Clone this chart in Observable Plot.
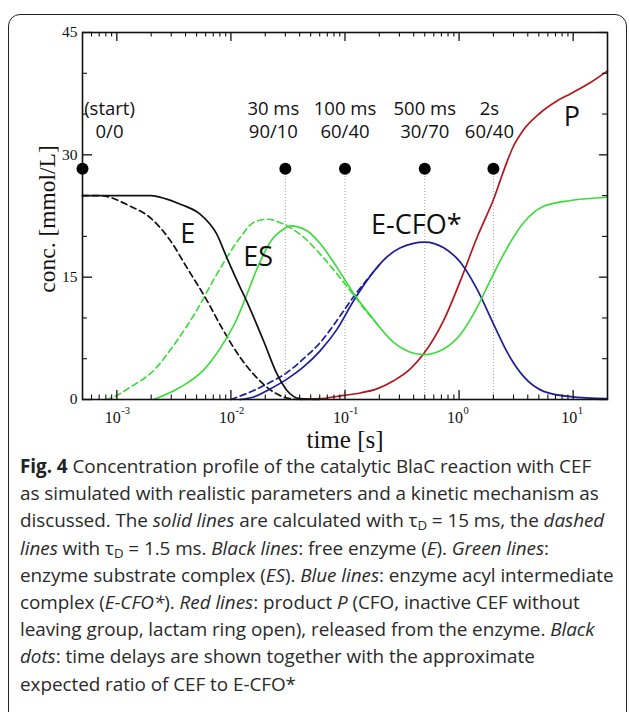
<!DOCTYPE html>
<html><head><meta charset="utf-8">
<script src="https://cdn.jsdelivr.net/npm/d3@7"></script>
<script src="https://cdn.jsdelivr.net/npm/@observablehq/plot@0.6"></script>
<style>
html,body{margin:0;padding:0;background:#fff;}
body{width:629px;height:712px;position:relative;overflow:hidden;}
#box{position:absolute;left:8px;top:14px;width:619px;height:760px;border:1.6px solid #222;border-radius:12px;box-sizing:border-box;}
#chart{position:absolute;left:0;top:0;}
#cap{position:absolute;left:20px;top:453px;font-family:"Open Sans",sans-serif;font-size:18.9px;line-height:27.2px;color:#2a2a2a;white-space:nowrap;letter-spacing:-0.05px;}
#cap b{font-weight:700;color:#222;}
#cap i{font-style:italic;}
#cap sub{font-size:70%;vertical-align:-3px;line-height:0;}
</style></head><body>
<div id="box"></div>
<div id="chart"></div>
<div id="cap">
<b>Fig. 4</b> Concentration profile of the catalytic BlaC reaction with CEF<br>
as simulated with realistic parameters and a kinetic mechanism as<br>
discussed. The <i>solid lines</i> are calculated with τ<sub>D</sub> = 15 ms, the <i>dashed</i><br>
<i>lines</i> with τ<sub>D</sub> = 1.5 ms. <i>Black lines</i>: free enzyme (<i>E</i>). <i>Green lines</i>:<br>
enzyme substrate complex (<i>ES</i>). <i>Blue lines</i>: enzyme acyl intermediate<br>
complex (<i>E-CFO*</i>). <i>Red lines</i>: product <i>P</i> (CFO, inactive CEF without<br>
leaving group, lactam ring open), released from the enzyme. <i>Black</i><br>
<i>dots</i>: time delays are shown together with the approximate<br>
expected ratio of CEF to E-CFO*
</div>
<script>
// ---- data (time in s, concentration in mmol/L) ----
const eSolidT = [5e-4, 1.2e-3, 2.0e-3, 2.7e-3, 3.6e-3, 5.4e-3, 7.5e-3, 9.2e-3, 1.21e-2, 1.33e-2, 1.93e-2, 2.54e-2, 3.1e-2, 4.05e-2, 0.06];
const eSolidV = [25, 25, 25, 24.6, 23.95, 22.7, 20.3, 17.4, 13.7, 12.5, 7.2, 3.1, 1.1, 0.1, 0];
const eDashT = [5e-4, 7.1e-4, 1.31e-3, 1.96e-3, 2.94e-3, 4.1e-3, 5.96e-3, 8.6e-3, 1.2e-2, 1.58e-2, 2.07e-2, 2.9e-2, 3.8e-2];
const eDashV = [25, 25, 23.7, 22.3, 19.5, 16.2, 12.5, 8.45, 5.2, 3.1, 1.5, 0.3, 0];
const esSolidT = [2.1e-3, 3.6e-3, 5.75e-3, 8.07e-3, 1.13e-2, 1.33e-2, 1.69e-2, 2.21e-2, 2.9e-2, 3.31e-2, 4.64e-2, 6.08e-2, 8.5e-2, 0.119, 0.167, 0.267, 0.374, 0.489, 0.733, 1.03, 1.44, 1.88, 2.64, 3.69, 5.52, 9.5, 20];
const esSolidV = [0, 1.5, 3.6, 6.3, 9.9, 12.3, 16.0, 19.3, 20.9, 21.3, 20.7, 19.1, 16.2, 13.0, 10.3, 7.0, 5.8, 5.5, 6.2, 8.0, 11.3, 14.6, 18.6, 21.7, 23.7, 24.4, 24.8];
const esDashT = [8e-4, 9.3e-4, 1.31e-3, 2.1e-3, 3.36e-3, 5.0e-3, 7.0e-3, 9.2e-3, 1.21e-2, 1.58e-2, 2.07e-2, 2.9e-2, 4.33e-2, 6.08e-2, 8.5e-2, 0.119, 0.156, 0.19];
const esDashV = [0, 0.3, 1.5, 3.55, 7.2, 10.9, 14.6, 17.4, 19.9, 21.7, 22.1, 21.5, 19.9, 17.8, 15.4, 12.8, 10.7, 9.3];
const acSolidT = [1.2e-2, 1.58e-2, 2.21e-2, 3.1e-2, 4.33e-2, 6.08e-2, 8.5e-2, 0.119, 0.156, 0.218, 0.306, 0.5, 0.733, 1.03, 1.44, 2.01, 2.64, 3.69, 5.52, 9.5, 20];
const acSolidV = [0, 0.3, 1.3, 2.5, 4.0, 6.0, 8.6, 12.1, 14.6, 17.1, 18.6, 19.3, 18.6, 16.8, 13.5, 9.2, 5.8, 2.8, 1.0, 0.35, 0.1];
const acDashT = [1.0e-2, 1.58e-2, 2.21e-2, 3.1e-2, 4.33e-2, 6.08e-2, 8.5e-2, 0.119, 0.156, 0.2];
const acDashV = [0, 1.1, 2.1, 3.3, 5.0, 7.0, 9.7, 12.6, 14.7, 16.5];
const pT = [0.04, 0.06, 0.097, 0.136, 0.19, 0.267, 0.374, 0.489, 0.733, 1.03, 1.44, 1.75, 2.0, 2.3, 2.64, 2.96, 3.69, 5.1, 7.2, 9.5, 14.3, 20];
const pV = [0, 0.1, 0.5, 0.8, 1.3, 2.3, 3.75, 5.6, 9.7, 14.6, 19.9, 22.6, 24.5, 26.9, 29.2, 30.9, 33.1, 35.1, 36.6, 37.5, 38.9, 40.3];

const dotTimes = [5e-4, 0.03, 0.1, 0.5, 2];
const dotLevel = 28.3;
const dotNames = ["(start)", "30 ms", "100 ms", "500 ms", "2s"];
const dotRatios = ["0/0", "90/10", "60/40", "30/70", "60/40"];

const curveNames = ["E", "ES", "E-CFO*", "P"];
const curveLabelT = [4.18e-3, 1.73e-2, 0.422, 9.75];
const curveLabelV = [20.2, 17.4, 21.4, 34.6];

const xMajor = [1e-3, 1e-2, 1e-1, 1, 10];
const xExp = ["-3", "-2", "-1", "0", "1"];
const yMajor = [0, 15, 30, 45];
const yMinor = [5, 10, 20, 25, 35, 40];

// ---- build ----
const zip = (t, v) => t.map((d, i) => ({t: d, v: v[i]}));
const xMinor = [];
for (let e = -4; e <= 1; e++) for (let k = 2; k <= 9; k++) {
  const val = k * Math.pow(10, e);
  if (val > 5e-4 && val < 20) xMinor.push(val);
}
const W = 629, H = 455, mL = 82, mR = 22, mT = 32, mB = 56;
const pw = W - mL - mR, ph = H - mT - mB;
const serif = "'Liberation Serif','Times New Roman',serif";
const sans = "'Open Sans',sans-serif";
const GREEN = "#3ddc3d", BLUE = "#1c1c9c", RED = "#b3161b", BLACK = "#111";
const lw = 1.7;
const dash = "6,4";

const labelOpts = (dx, keep) => ({
  x: d => d, y: () => dotLevel, text: (d, i) => dotNames[i] + "\n" + dotRatios[i],
  dx, dy: -49.5, textAnchor: "middle", lineAnchor: "middle", lineHeight: 1.25, fontSize: 18.5,
  fontFamily: sans, fill: "#111", filter: keep
});

const marks = [
  Plot.ruleX(dotTimes.slice(1), {x: d => d, y1: 0, y2: dotLevel, stroke: "#9a9a9a", strokeWidth: 0.9, strokeDasharray: "1,2"}),
  Plot.line(zip(esDashT, esDashV), {x: "t", y: "v", stroke: GREEN, strokeWidth: lw, strokeDasharray: dash, curve: "monotone-x"}),
  Plot.line(zip(acDashT, acDashV), {x: "t", y: "v", stroke: BLUE, strokeWidth: lw, strokeDasharray: dash, curve: "monotone-x"}),
  Plot.line(zip(eDashT, eDashV), {x: "t", y: "v", stroke: BLACK, strokeWidth: lw, strokeDasharray: dash, curve: "monotone-x"}),
  Plot.line(zip(pT, pV), {x: "t", y: "v", stroke: RED, strokeWidth: lw, curve: "monotone-x"}),
  Plot.line(zip(acSolidT, acSolidV), {x: "t", y: "v", stroke: BLUE, strokeWidth: lw, curve: "monotone-x"}),
  Plot.line(zip(esSolidT, esSolidV), {x: "t", y: "v", stroke: GREEN, strokeWidth: lw, curve: "monotone-x"}),
  Plot.line(zip(eSolidT, eSolidV), {x: "t", y: "v", stroke: BLACK, strokeWidth: lw, curve: "monotone-x"}),
  Plot.dot(dotTimes, {x: d => d, y: () => dotLevel, r: 6, fill: "#000", stroke: "none"}),
  Plot.text(dotTimes, labelOpts(0, (d, i) => i === 2 || i === 3)),
  Plot.text(dotTimes, labelOpts(27, (d, i) => i === 0)),
  Plot.text(dotTimes, labelOpts(-12, (d, i) => i === 1)),
  Plot.text(dotTimes, labelOpts(-4, (d, i) => i === 4)),
  Plot.text(curveNames, {x: (d, i) => curveLabelT[i], y: (d, i) => curveLabelV[i], text: d => d,
    fontSize: 27, fontFamily: sans, fill: "#111"}),
  Plot.frame({stroke: "#111", strokeWidth: 1.6}),
  Plot.tickX(xMajor, {x: d => d, insetTop: ph - 9, stroke: "#111", strokeWidth: 1.3}),
  Plot.tickX(xMinor, {x: d => d, insetTop: ph - 4.5, stroke: "#111", strokeWidth: 1.1}),
  Plot.tickX(xMajor, {x: d => d, insetBottom: ph - 9, stroke: "#111", strokeWidth: 1.3}),
  Plot.tickX(xMinor, {x: d => d, insetBottom: ph - 4.5, stroke: "#111", strokeWidth: 1.1}),
  Plot.tickY(yMajor, {y: d => d, insetRight: pw - 10, stroke: "#111", strokeWidth: 1.3}),
  Plot.tickY(yMinor, {y: d => d, insetRight: pw - 5, stroke: "#111", strokeWidth: 1.1}),
  Plot.tickY(yMajor, {y: d => d, insetLeft: pw - 8, stroke: "#111", strokeWidth: 1.3}),
  Plot.tickY(yMinor, {y: d => d, insetLeft: pw - 5, stroke: "#111", strokeWidth: 1.1}),
  Plot.text(yMajor, {y: d => d, text: d => String(d), frameAnchor: "left", dx: -5, textAnchor: "end",
    lineAnchor: "middle", fontSize: 15.5, fontFamily: serif, fill: "#111"}),
  Plot.text(xMajor, {x: d => d, text: () => "10", frameAnchor: "bottom", dx: 4, dy: 18.5, textAnchor: "end",
    lineAnchor: "middle", fontSize: 16, fontFamily: serif, fill: "#111"}),
  Plot.text(xMajor, {x: d => d, text: (d, i) => xExp[i], frameAnchor: "bottom", dx: 4.5, dy: 11.5, textAnchor: "start",
    lineAnchor: "middle", fontSize: 10.5, fontFamily: serif, fill: "#111"}),
  Plot.text(["time [s]"], {text: d => d, frameAnchor: "bottom", dy: 40.5, textAnchor: "middle", lineAnchor: "middle",
    fontSize: 25, fontFamily: serif, fill: "#111"}),
  Plot.text(["conc. [mmol/L]"], {text: d => d, frameAnchor: "left", dx: -35, dy: 3, rotate: -90,
    textAnchor: "middle", lineAnchor: "middle", fontSize: 23.5, fontFamily: serif, fill: "#111"})
];

const chart = Plot.plot({
  width: W, height: H,
  marginLeft: mL, marginRight: mR, marginTop: mT, marginBottom: mB,
  x: {type: "log", domain: [5e-4, 20], axis: null},
  y: {domain: [0, 45], axis: null},
  style: {background: "transparent", overflow: "visible"},
  marks
});
document.getElementById("chart").appendChild(chart);
</script>
</body></html>
